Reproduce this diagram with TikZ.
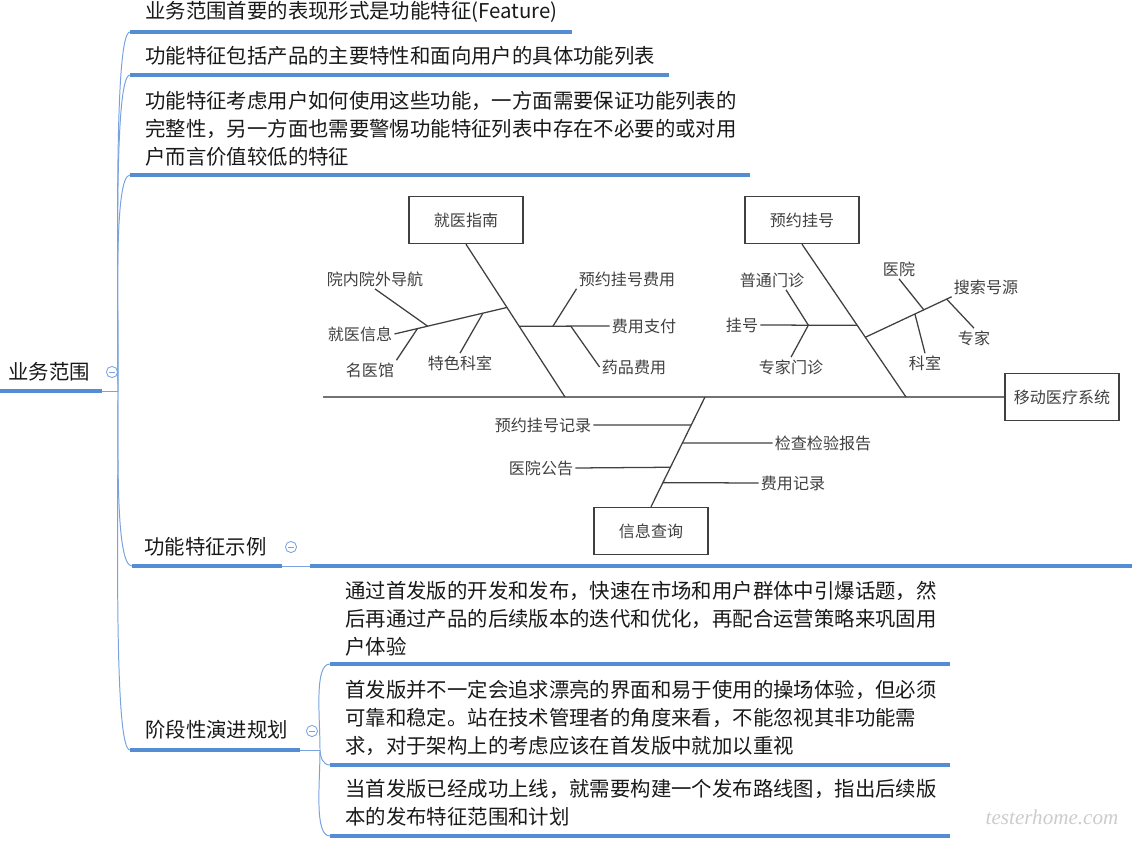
\documentclass[tikz,border=0pt]{standalone}
\usepackage{fontspec}
\setmainfont{Noto Sans CJK SC}
\newfontfamily\wmfont{Liberation Serif}
\definecolor{mmblue}{RGB}{84,141,212}
\definecolor{mmthin}{RGB}{120,163,224}
\definecolor{fbgray}{RGB}{64,64,64}

\begin{document}
\begin{tikzpicture}[x=0.025cm, y=-0.025cm,
	topic/.style={anchor=west, inner sep=0pt, align=left, text=black!90, font=\fontsize{14.5pt}{19.9pt}\selectfont},
	uline/.style={mmblue, line width=2.4pt},
	conn/.style={mmthin, line width=0.7pt},
	fold/.style={circle, draw=mmthin, line width=0.6pt, minimum size=2.8mm, inner sep=0pt,
		path picture={\draw[mmthin, line width=0.6pt] ([xshift=-0.8mm]path picture bounding box.center) -- ([xshift=0.8mm]path picture bounding box.center);}},
	box/.style={draw=fbgray, line width=0.9pt, minimum width=2.85cm, minimum height=1.18cm, text=fbgray, font=\fontsize{11.4pt}{14pt}\selectfont},
	lbl/.style={inner sep=1.5pt, text=fbgray, font=\fontsize{11.4pt}{14pt}\selectfont},
	bone/.style={draw=fbgray, line width=0.9pt},
	spine/.style={draw=black!55, line width=1.4pt}]

\useasboundingbox (0,0) rectangle (1132,841);

% mind map
\node[topic](root) at(8,372) {业务范围};
\node[topic](t1) at(145,12) {业务范围首要的表现形式是功能特征(Feature)};
\node[topic](t2) at(145,56) {功能特征包括产品的主要特性和面向用户的具体功能列表};
\node[topic](t3) at(145,129) {功能特征考虑用户如何使用这些功能，一方面需要保证功能列表的\\完整性，另一方面也需要警惕功能特征列表中存在不必要的或对用\\户而言价值较低的特征};
\node[topic](fe) at(144,547) {功能特征示例};
\node[topic](st) at(145,730) {阶段性演进规划};
\node[topic](c1) at(345,619) {通过首发版的开发和发布，快速在市场和用户群体中引爆话题，然\\后再通过产品的后续版本的迭代和优化，再配合运营策略来巩固用\\户体验};
\node[topic](c2) at(345,718) {首发版并不一定会追求漂亮的界面和易于使用的操场体验，但必须\\可靠和稳定。站在技术管理者的角度来看，不能忽视其非功能需\\求，对于架构上的考虑应该在首发版中就加以重视};
\node[topic](c3) at(345,803) {当首发版已经成功上线，就需要构建一个发布路线图，指出后续版\\本的发布特征范围和计划};

\node[fold](f0) at(112,372) {};
\node[fold](f1) at(291,547) {};
\node[fold](f2) at(312,731) {};

\foreach \n\x\y in {rootl/0/391,rootr/102/391,j0/118/391,t1l/130/32,t1r/572/32,t2l/130/75,t2r/669/75,t3l/130/175,t3r/750/175,fel/132/566,fer/282/566,fbl/310/566,fbr/1132/566,stl/130/750,str/300/750,j1/320/750,c1l/330/664,c1r/950/664,c2l/330/765,c2r/950/765,c3l/330/836,c3r/950/836}{
	\coordinate(\n) at(\x,\y);
}

\foreach \u \v in {
rootl/rootr%
,t1l/t1r%
,t2l/t2r%
,t3l/t3r%
,fel/fer%
,fbl/fbr%
,stl/str%
,c1l/c1r%
,c2l/c2r%
,c3l/c3r%
}{
	\draw[uline] (\u) -- (\v);
}

\draw[conn] (rootr) -- (j0);
\draw[conn] (fer) -- (fbl);
\draw[conn] (str) -- (j1);

\foreach \u \v \o in {
j0/t1l/90%
,j0/t2l/90%
,j0/t3l/90%
,j0/fel/-90%
,j0/stl/-90%
,j1/c1l/90%
,j1/c2l/-90%
,j1/c3l/-90%
}{
	\draw[conn] (\u) to[out=\o, in=180, in max distance=4mm] (\v);
}

% fishbone
\foreach \n/\x/\y/\txt in {g/466/220/就医指南,r/802/220/预约挂号,q/651/531/信息查询,h/1062/397/移动医疗系统}{
	\node[box](\n) at(\x,\y) {\txt};
}
\foreach \n/\x/\y/\txt in {jyxx/360/334/就医信息,ynwdh/375/279/院内院外导航,myg/370/370/名医馆,tsks/460/363/特色科室,fyzf/644/326/费用支付,yyghfy/627/279/预约挂号费用,ypfy/634/367/药品费用,gh/742/325/挂号,ptmz/772/280/普通门诊,zjmz/791/367/专家门诊,ssh/986/287/搜索号源,yy/899/269/医院,zj/974/338/专家,ks/925/363/科室,yyghjl/543/425/预约挂号记录,jcjybg/823/443/检查检验报告,yygg/541/468/医院公告,fyjl/793/483/费用记录}{
	\node[lbl](\n) at(\x,\y) {\txt};
}

\coordinate(tail) at(323,397);
\coordinate(g1) at(565,397);
\coordinate(r1) at(906,397);
\coordinate(q1) at(705,397);

\draw[spine] (tail) -- (h.west);
\draw[bone] (g.south) -- (g1) coordinate[pos=.414] (gA) coordinate[pos=.537] (gB);
\draw[bone] (r.south) -- (r1) coordinate[pos=.531] (rA) coordinate[pos=.609] (rB);
\draw[bone] (q1) -- (q.north) coordinate[pos=.255] (qA) coordinate[pos=.42] (qB) coordinate[pos=.64] (qC) coordinate[pos=.78] (qD);

\draw[bone] (jyxx.east) -- (gA) coordinate[pos=.205] (gA1) coordinate[pos=.295] (gA2) coordinate[pos=.786] (gA3);
\draw[bone] (gB) -- (fyzf.west) coordinate[pos=.374] (gB1) coordinate[pos=.571] (gB2);
\draw[bone] (gh.east) -- (rA) coordinate[pos=.495] (rA1);
\draw[bone] (rB) -- (ssh.south west) coordinate[pos=.575] (rB1) coordinate[pos=.678] (rB2) coordinate[pos=.943] (rB3);

\foreach \u \v in {
myg.north east/gA1%
,ynwdh.south/gA2%
,tsks.north/gA3%
,yyghfy.south west/gB1%
,ypfy.west/gB2%
,ptmz.-35/rA1%
,zjmz.north/rA1%
,ks.north/rB1%
,yy.south/rB2%
,zj.north/rB3%
,yyghjl.east/qA%
,jcjybg.west/qB%
,yygg.east/qC%
,fyjl.west/qD%
}{
	\draw[bone] (\u) -- (\v);
}

\node[text=black!20, font=\wmfont\itshape\fontsize{15pt}{15pt}\selectfont](wm) at(1052,817) {testerhome.com};

\end{tikzpicture}
\end{document}
